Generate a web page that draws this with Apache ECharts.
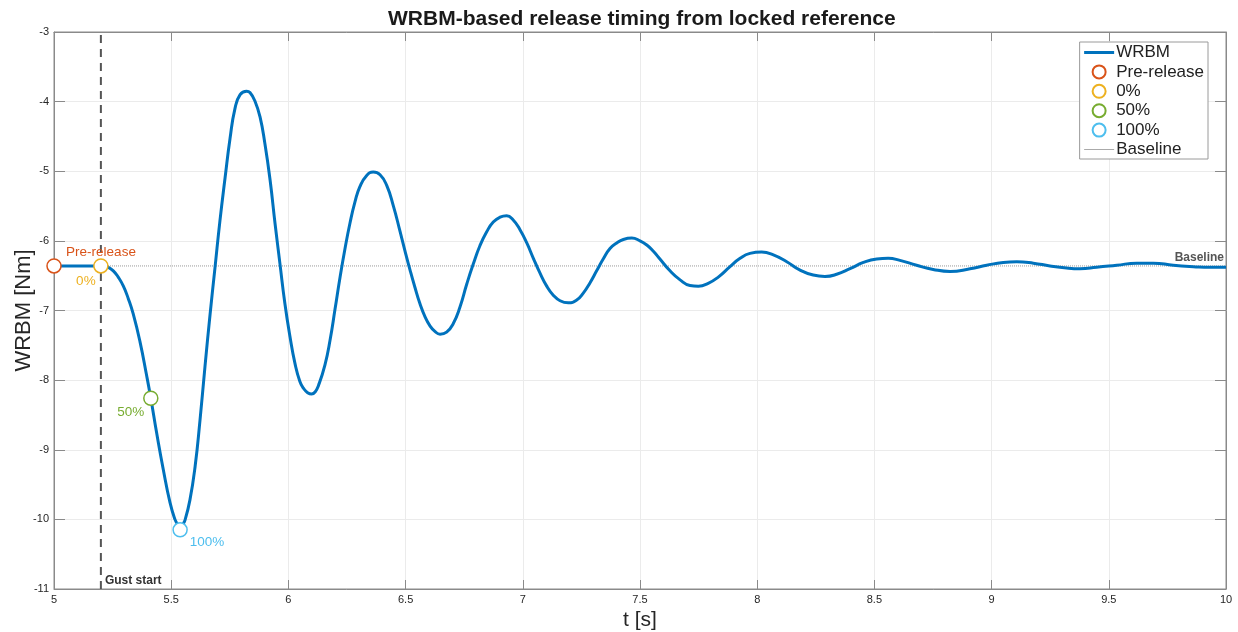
<!DOCTYPE html>
<html>
<head>
<meta charset="utf-8">
<script src="https://cdn.jsdelivr.net/npm/echarts@6/dist/echarts.min.js"></script>
<style>
  html, body { margin: 0; padding: 0; background: #fff; }
  #chart { width: 1238px; height: 632px; }
</style>
</head>
<body>
<div id="chart"></div>
<script>
// WRBM trace: [t, WRBM]
const wrbm = [
  [5.0, -6.36], [5.1, -6.36], [5.15, -6.36], [5.21, -6.36], [5.232, -6.38],
  [5.253, -6.43], [5.274, -6.52], [5.296, -6.65], [5.317, -6.83], [5.338, -7.05],
  [5.367, -7.45], [5.395, -7.93], [5.413, -8.26], [5.438, -8.76], [5.466, -9.28],
  [5.495, -9.76], [5.516, -10.0], [5.527, -10.07], [5.538, -10.1], [5.549, -10.07],
  [5.559, -10.01], [5.58, -9.72],
  [5.602, -9.24], [5.623, -8.57], [5.644, -7.81], [5.666, -7.05], [5.687, -6.38],
  [5.708, -5.71], [5.73, -5.09], [5.751, -4.53], [5.772, -4.1], [5.794, -3.9],
  [5.822, -3.85], [5.836, -3.87], [5.857, -3.99], [5.879, -4.22], [5.9, -4.61],
  [5.922, -5.13], [5.943, -5.75], [5.964, -6.33], [5.985, -6.9], [6.007, -7.38],
  [6.028, -7.76], [6.049, -8.02], [6.065, -8.12], [6.082, -8.18], [6.099, -8.2],
  [6.114, -8.17], [6.128, -8.08],
  [6.156, -7.78], [6.178, -7.42], [6.199, -6.98], [6.22, -6.53], [6.241, -6.12],
  [6.263, -5.74], [6.284, -5.44], [6.305, -5.22], [6.334, -5.06], [6.362, -5.01],
  [6.391, -5.05], [6.419, -5.2], [6.448, -5.5], [6.476, -5.86], [6.497, -6.14],
  [6.519, -6.42], [6.54, -6.67], [6.561, -6.9], [6.583, -7.09], [6.604, -7.22],
  [6.625, -7.3], [6.647, -7.34], [6.675, -7.31], [6.703, -7.19], [6.732, -6.95],
  [6.761, -6.62], [6.789, -6.33], [6.817, -6.07], [6.846, -5.87], [6.874, -5.73],
  [6.903, -5.66], [6.931, -5.64], [6.959, -5.7], [6.988, -5.84], [7.017, -6.03],
  [7.045, -6.25], [7.073, -6.46], [7.102, -6.65], [7.13, -6.78], [7.159, -6.86],
  [7.194, -6.89], [7.23, -6.85], [7.258, -6.75], [7.287, -6.6], [7.315, -6.43],
  [7.343, -6.26], [7.372, -6.11], [7.401, -6.03], [7.429, -5.98], [7.465, -5.96],
  [7.5, -6.0], [7.529, -6.06], [7.557, -6.15], [7.585, -6.26], [7.628, -6.43],
  [7.671, -6.56], [7.713, -6.64], [7.749, -6.65], [7.791, -6.61], [7.834, -6.52],
  [7.884, -6.37], [7.927, -6.25], [7.969, -6.18], [8.019, -6.16], [8.069, -6.2],
  [8.126, -6.3], [8.183, -6.42], [8.239, -6.49], [8.289, -6.51], [8.339, -6.48],
  [8.396, -6.4], [8.453, -6.31], [8.51, -6.26], [8.559, -6.25], [8.609, -6.28],
  [8.68, -6.35], [8.751, -6.41], [8.823, -6.44], [8.908, -6.4], [8.979, -6.35],
  [9.05, -6.31], [9.107, -6.3], [9.178, -6.32], [9.249, -6.36], [9.32, -6.39],
  [9.377, -6.4], [9.448, -6.38], [9.534, -6.35], [9.619, -6.32], [9.69, -6.32],
  [9.775, -6.35], [9.861, -6.37], [9.932, -6.38], [10.0, -6.38]
];
const baseline = -6.36;
const gustStart = 5.2;
const markerNames = ['Pre-release', '0%', '50%', '100%'];
const markerPoints = [[5.0, -6.36], [5.2, -6.36], [5.413, -8.26], [5.538, -10.15]];
const xTicks = [5, 10, 0.5];   // min, max, step
const yTicks = [-11, -3, 1];

const markerColors = ['#D95319', '#EDB120', '#77AC30', '#4DBEEE'];
const labelOffsets = [[47, -14], [-15, 15], [-20, 14], [27, 12]];
const FONT = '"Liberation Sans", Arial, sans-serif';

const chart = echarts.init(document.getElementById('chart'));

const markerSeries = markerNames.map((name, i) => ({
    name: name,
    type: 'scatter',
    data: [markerPoints[i]],
    symbol: 'circle',
    symbolSize: 14,
    z: 5,
    itemStyle: {
        color: '#fff',
        borderColor: markerColors[i],
        borderWidth: 1.5,
        opacity: 1
    },
    label: {
        show: true,
        formatter: name,
        position: 'inside',
        offset: labelOffsets[i],
        color: markerColors[i],
        fontSize: 13.5,
        fontFamily: FONT
    }
}));

const option = {
    animation: false,
    backgroundColor: '#fff',
    title: {
        text: 'WRBM-based release timing from locked reference',
        left: 383,
        top: 4,
        textStyle: { fontSize: 21, fontWeight: 'bold', color: '#1a1a1a', fontFamily: FONT }
    },
    grid: {
        left: 54, right: 12, top: 32, bottom: 43,
        outerBoundsMode: 'none',
        containLabel: false,
        show: true, borderColor: '#8a8a8a', borderWidth: 1
    },
    legend: {
        orient: 'vertical',
        right: 30,
        top: 42,
        backgroundColor: '#fff',
        borderColor: '#9a9a9a',
        borderWidth: 1,
        borderRadius: 0,
        padding: [2, 4, 1, 3],
        itemWidth: 30,
        itemHeight: 13,
        itemGap: 2.4,
        textStyle: { fontSize: 17, color: '#222', fontFamily: FONT, padding: [0, 0, 0, -3] },
        data: [
            { name: 'WRBM', itemStyle: { opacity: 0 }, lineStyle: { width: 3, color: '#0072BD' } },
            'Pre-release', '0%', '50%', '100%',
            { name: 'Baseline', itemStyle: { opacity: 0 }, lineStyle: { width: 1, type: 'solid', color: '#aaa' } }
        ]
    },
    xAxis: [{
        type: 'value',
        min: xTicks[0], max: xTicks[1], interval: xTicks[2],
        name: 't [s]',
        nameLocation: 'middle',
        nameGap: 19,
        nameTextStyle: { fontSize: 21, color: '#262626', fontFamily: FONT },
        axisLine: { show: true, lineStyle: { color: '#8a8a8a' } },
        axisTick: { show: true, inside: true, length: 9, lineStyle: { color: '#8a8a8a' } },
        axisLabel: { fontSize: 11, color: '#262626', margin: 5, fontFamily: FONT },
        splitLine: { show: true, lineStyle: { color: '#ebebeb' } }
    }, {
        type: 'value', position: 'top',
        min: xTicks[0], max: xTicks[1], interval: xTicks[2],
        axisLine: { show: true, lineStyle: { color: '#8a8a8a' } },
        axisTick: { show: true, inside: true, length: 9, lineStyle: { color: '#8a8a8a' } },
        axisLabel: { show: false },
        splitLine: { show: false }
    }],
    yAxis: [{
        type: 'value',
        min: yTicks[0], max: yTicks[1], interval: yTicks[2],
        name: 'WRBM [Nm]',
        nameLocation: 'middle',
        nameGap: 19,
        nameMoveOverlap: false,
        nameTextStyle: { fontSize: 22, color: '#262626', fontFamily: FONT },
        axisLine: { show: true, lineStyle: { color: '#8a8a8a' } },
        axisTick: { show: true, inside: true, length: 11, lineStyle: { color: '#8a8a8a' } },
        axisLabel: { fontSize: 11, color: '#262626', margin: 5, fontFamily: FONT },
        splitLine: { show: true, lineStyle: { color: '#ebebeb' } }
    }, {
        type: 'value', position: 'right',
        min: yTicks[0], max: yTicks[1], interval: yTicks[2],
        axisLine: { show: true, lineStyle: { color: '#8a8a8a' } },
        axisTick: { show: true, inside: true, length: 11, lineStyle: { color: '#8a8a8a' } },
        axisLabel: { show: false },
        splitLine: { show: false }
    }],
    series: [
        {
            name: 'Baseline',
            type: 'line',
            data: [
                [xTicks[0], baseline],
                {
                    value: [xTicks[1], baseline],
                    label: {
                        show: true, formatter: 'Baseline', position: 'left',
                        offset: [3, -8], color: '#555', fontSize: 12, fontWeight: 'bold', fontFamily: FONT
                    }
                }
            ],
            symbol: 'circle',
            symbolSize: 0,
            z: 1,
            itemStyle: { color: '#999' },
            lineStyle: { color: '#999', width: 1, type: [1, 1] }
        },
        {
            name: 'Gust start',
            type: 'line',
            data: [
                {
                    value: [gustStart, yTicks[0]],
                    label: {
                        show: true, formatter: 'Gust start', position: 'right',
                        offset: [-1, -8], color: '#333', fontSize: 12, fontWeight: 'bold', fontFamily: FONT
                    }
                },
                [gustStart, yTicks[1]]
            ],
            symbol: 'circle',
            symbolSize: 0,
            z: 1,
            itemStyle: { color: '#555' },
            lineStyle: { color: '#555', width: 2, type: [8, 6] }
        },
        {
            name: 'WRBM',
            type: 'line',
            data: wrbm,
            smooth: 0.5,
            showSymbol: false,
            symbol: 'none',
            z: 3,
            itemStyle: { color: '#0072BD' },
            lineStyle: { color: '#0072BD', width: 3 }
        },
        ...markerSeries
    ]
};

chart.setOption(option);
</script>
</body>
</html>
